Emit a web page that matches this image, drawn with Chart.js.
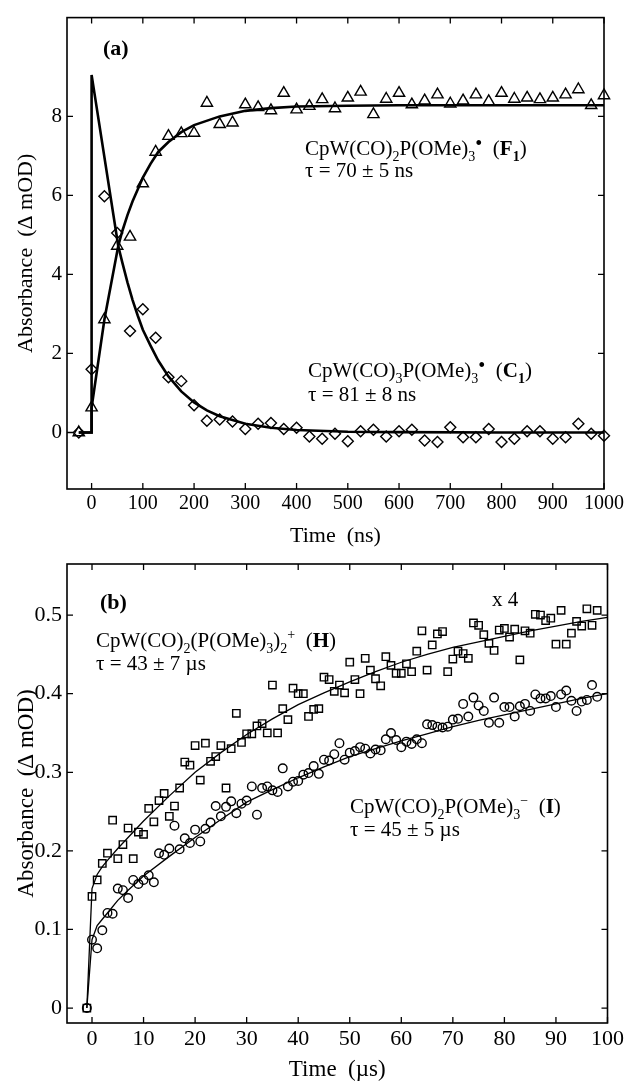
<!DOCTYPE html>
<html><head><meta charset="utf-8">
<script src="https://cdn.jsdelivr.net/npm/chart.js@4.4.1/dist/chart.umd.min.js"></script>
<style>
html,body{margin:0;padding:0;background:#fff;}
#wrap{position:relative;width:627px;height:1084px;overflow:hidden;}
canvas{position:absolute;left:0;}
</style></head><body>
<div id="wrap">
<canvas id="ca" width="627" height="550" style="top:0"></canvas>
<canvas id="cb" width="627" height="539" style="top:545px"></canvas>
</div>
<script>
// ---------- Panel (a) data ----------
const timeA = [-25,0,25,50,75,100,125,150,175,200,225,250,275,300,325,350,375,400,425,450,475,500,525,550,575,600,625,650,675,700,725,750,775,800,825,850,875,900,925,950,975,1000];
const f1Values = [0,0.63,2.86,4.72,4.95,6.3,7.1,7.5,7.57,7.58,8.34,7.8,7.84,8.3,8.23,8.15,8.59,8.17,8.26,8.43,8.2,8.47,8.62,8.05,8.44,8.59,8.3,8.4,8.55,8.32,8.4,8.55,8.38,8.59,8.44,8.47,8.43,8.47,8.55,8.68,8.28,8.53];
const c1Values = [0,1.6,5.98,5.05,2.57,3.12,2.4,1.4,1.3,0.69,0.3,0.33,0.28,0.09,0.22,0.24,0.09,0.12,-0.1,-0.16,-0.03,-0.22,0.03,0.07,-0.1,0.03,0.07,-0.2,-0.24,0.13,-0.12,-0.12,0.09,-0.24,-0.16,0.03,0.03,-0.16,-0.12,0.22,-0.03,-0.08];
const fitF1Time = [-25,0,0,25,52,60,70,80,90,100,115,130,150,175,200,250,300,350,400,500,600,800,1000];
const fitF1Value = [0,0,0.63,2.86,4.72,5.1,5.5,5.85,6.15,6.45,6.8,7.1,7.35,7.6,7.78,8.0,8.14,8.21,8.25,8.27,8.28,8.28,8.28];
const fitC1Time = [-25,0,0,52,60,70,80,90,100,115,130,150,175,200,225,250,300,350,400,500,600,800,1000];
const fitC1Value = [0,0,9.05,4.72,4.3,3.8,3.35,2.96,2.6,2.2,1.82,1.42,1.04,0.76,0.56,0.41,0.22,0.12,0.065,0.02,0.01,0,0];
const xTicksA = [0,100,200,300,400,500,600,700,800,900,1000];
const yTicksA = [0,2,4,6,8];
const yTickLabelsA = ['0','2','4','6','8'];

// ---------- Panel (b) data ----------
const timeB = [-1,0,1,2,3,4,5,6,7,8,9,10,11,12,13,14,15,16,17,18,19,20,21,22,23,24,25,26,27,28,29,30,31,32,33,34,35,36,37,38,39,40,41,42,43,44,45,46,47,48,49,50,51,52,53,54,55,56,57,58,59,60,61,62,63,64,65,66,67,68,69,70,71,72,73,74,75,76,77,78,79,80,81,82,83,84,85,86,87,88,89,90,91,92,93,94,95,96,97,98];
const hValues = [0,0.142,0.163,0.184,0.197,0.239,0.19,0.208,0.229,0.19,0.224,0.221,0.254,0.237,0.264,0.273,0.244,0.257,0.28,0.313,0.309,0.334,0.29,0.337,0.314,0.32,0.334,0.28,0.33,0.375,0.338,0.349,0.349,0.359,0.362,0.35,0.411,0.35,0.381,0.367,0.407,0.40,0.40,0.371,0.38,0.381,0.421,0.418,0.403,0.411,0.401,0.44,0.418,0.40,0.445,0.43,0.419,0.41,0.447,0.436,0.426,0.426,0.438,0.428,0.454,0.48,0.43,0.462,0.476,0.479,0.428,0.444,0.454,0.451,0.445,0.49,0.487,0.475,0.464,0.455,0.481,0.483,0.472,0.482,0.443,0.48,0.477,0.501,0.50,0.493,0.496,0.463,0.506,0.463,0.477,0.492,0.486,0.508,0.487,0.506];
const iValues = [0,0.087,0.076,0.099,0.121,0.12,0.152,0.15,0.14,0.163,0.158,0.163,0.169,0.16,0.197,0.195,0.203,0.232,0.202,0.216,0.21,0.227,0.212,0.228,0.236,0.257,0.244,0.256,0.263,0.248,0.26,0.264,0.282,0.246,0.28,0.282,0.277,0.275,0.305,0.282,0.288,0.289,0.297,0.299,0.308,0.298,0.316,0.315,0.323,0.337,0.316,0.325,0.327,0.332,0.33,0.324,0.329,0.328,0.342,0.35,0.341,0.332,0.339,0.336,0.342,0.337,0.361,0.36,0.358,0.357,0.358,0.367,0.368,0.387,0.371,0.395,0.385,0.378,0.363,0.395,0.363,0.383,0.383,0.371,0.384,0.387,0.378,0.399,0.394,0.394,0.397,0.383,0.399,0.404,0.391,0.378,0.39,0.392,0.411,0.396];
const fitHTime = [-1,0,1,2,3,5,7,10,15,20,25,30,35,40,45,50,55,60,65,70,75,80,85,90,95,100];
const fitHValue = [0,0.152,0.170,0.180,0.188,0.203,0.217,0.238,0.270,0.300,0.325,0.348,0.368,0.386,0.401,0.415,0.428,0.440,0.450,0.459,0.466,0.473,0.480,0.486,0.492,0.497];
const fitITime = [-1,0,1,2,3,5,7,10,15,20,25,30,35,40,45,50,55,60,65,70,75,80,85,90,95,100];
const fitIValue = [0,0.087,0.105,0.113,0.121,0.137,0.150,0.168,0.193,0.217,0.240,0.262,0.278,0.293,0.307,0.320,0.330,0.340,0.349,0.358,0.366,0.373,0.380,0.387,0.394,0.400];
const xTicksB = [0,10,20,30,40,50,60,70,80,90,100];
const yTicksB = [0,0.1,0.2,0.3,0.4,0.5];
const yTickLabelsB = ['0','0.1','0.2','0.3','0.4','0.5'];

const SERIF = '"Liberation Serif", "Times New Roman", serif';
const pts = (xs, ys) => xs.map((x, i) => ({x: x, y: ys[i]}));

function drawRich(ctx, x, y, segs, size) {
  let cx = x;
  ctx.textBaseline = 'alphabetic';
  ctx.textAlign = 'left';
  ctx.fillStyle = '#000';
  for (const s of segs) {
    const small = s.sub || s.sup;
    let fs = small ? Math.round(size * 0.68) : size;
    if (s.dot) fs = Math.round(size * 0.95);
    ctx.font = (s.b ? 'bold ' : '') + fs + 'px ' + SERIF;
    let dy = s.sub ? size * 0.27 : (s.sup ? -size * 0.40 : 0);
    if (s.dot) dy = -size * 0.24;
    ctx.fillText(s.t, cx, y + dy);
    cx += ctx.measureText(s.t).width;
  }
}

function framePlugin(annots, size) {
  return {
    id: 'frameTicks',
    afterDraw(chart) {
      const ctx = chart.ctx, a = chart.chartArea;
      const xs = chart.scales.x, ys = chart.scales.y;
      ctx.save();
      ctx.strokeStyle = '#000';
      ctx.lineWidth = 1.6;
      ctx.strokeRect(a.left, a.top, a.right - a.left, a.bottom - a.top);
      ctx.lineWidth = 1.3;
      ctx.beginPath();
      xs.ticks.forEach(t => {
        const px = xs.getPixelForValue(t.value);
        ctx.moveTo(px, a.bottom); ctx.lineTo(px, a.bottom - 6);
        ctx.moveTo(px, a.top); ctx.lineTo(px, a.top + 6);
      });
      ys.ticks.forEach(t => {
        const py = ys.getPixelForValue(t.value);
        ctx.moveTo(a.left, py); ctx.lineTo(a.left + 6, py);
        ctx.moveTo(a.right, py); ctx.lineTo(a.right - 6, py);
      });
      ctx.stroke();
      annots.forEach(an => drawRich(ctx, an.x, an.y, an.segs, an.size || size));
      ctx.restore();
    }
  };
}

function makeOptions(cfg) {
  return {
    responsive: false,
    animation: false,
    devicePixelRatio: 1,
    layout: {padding: {left: 0, right: 19, top: cfg.padTop, bottom: 0}},
    plugins: {legend: {display: false}, tooltip: {enabled: false}},
    scales: {
      x: {
        type: 'linear', position: 'bottom', min: cfg.xmin, max: cfg.xmax,
        grid: {display: false, drawTicks: false}, border: {display: false},
        afterBuildTicks: s => { s.ticks = cfg.xTicks.map(v => ({value: v})); },
        afterFit: s => { s.height = 61; },
        ticks: {color: '#000', font: {family: SERIF, size: cfg.xTickSize}, padding: cfg.xTickPad, maxRotation: 0, autoSkip: false,
                callback: v => String(v)},
        title: {display: true, text: cfg.xTitle, color: '#000', font: {family: SERIF, size: cfg.titleSize}, padding: {top: 0, bottom: cfg.xTitlePad}}
      },
      y: {
        type: 'linear', position: 'left', min: cfg.ymin, max: cfg.ymax,
        grid: {display: false, drawTicks: false}, border: {display: false},
        afterBuildTicks: s => { s.ticks = cfg.yTicks.map(v => ({value: v})); },
        afterFit: s => { s.width = 67; },
        ticks: {color: '#000', font: {family: SERIF, size: cfg.yTickSize}, padding: 5, autoSkip: false,
                callback: (v) => { const k = cfg.yTicks.findIndex(t => Math.abs(t - v) < 1e-9); return k >= 0 ? cfg.yLabels[k] : ''; }},
        title: {display: true, text: 'Absorbance  (\u0394 mOD)', color: '#000', font: {family: SERIF, size: cfg.titleSize}, padding: {top: 13, bottom: 0}}
      }
    }
  };
}

function markerSet(data, style, radius) {
  return {type: 'scatter', data: data, showLine: false, pointStyle: style, pointRadius: radius,
          pointBorderColor: '#000', pointBackgroundColor: 'rgba(0,0,0,0)', pointBorderWidth: 1.4, clip: false};
}
function fitSet(data, width) {
  return {type: 'scatter', data: data, showLine: true, borderColor: '#000', borderWidth: width,
          pointRadius: 0, tension: 0, fill: false, clip: false};
}

// ---------- Chart (a) ----------
const annotsA = [
  {x: 103, y: 55, segs: [{t: '(a)', b: true}], size: 22},
  {x: 305, y: 155, segs: [{t: 'CpW(CO)'}, {t: '2', sub: true}, {t: 'P(OMe)'}, {t: '3', sub: true}, {t: '\u2022', dot: true}, {t: '  ('}, {t: 'F', b: true}, {t: '1', sub: true, b: true}, {t: ')'}]},
  {x: 305, y: 177, segs: [{t: '\u03C4 = 70 \u00B1 5 ns'}]},
  {x: 308, y: 377, segs: [{t: 'CpW(CO)'}, {t: '3', sub: true}, {t: 'P(OMe)'}, {t: '3', sub: true}, {t: '\u2022', dot: true}, {t: '  ('}, {t: 'C', b: true}, {t: '1', sub: true, b: true}, {t: ')'}]},
  {x: 308, y: 401, segs: [{t: '\u03C4 = 81 \u00B1 8 ns'}]}
];
new Chart(document.getElementById('ca'), {
  type: 'scatter',
  data: {datasets: [
    fitSet(pts(fitC1Time, fitC1Value), 2.6),
    fitSet(pts(fitF1Time, fitF1Value), 2.6),
    markerSet(pts(timeA, f1Values), 'triangle', 6.5),
    markerSet(pts(timeA, c1Values), 'rectRot', 5.5)
  ]},
  options: makeOptions({padTop: 12, xmin: -48, xmax: 1000, ymin: -1.43, ymax: 10.5,
    xTicks: xTicksA, yTicks: yTicksA, yLabels: yTickLabelsA, xTickSize: 20, yTickSize: 21,
    xTickPad: 3, titleSize: 22, xTitle: 'Time  (ns)', xTitlePad: 1}),
  plugins: [framePlugin(annotsA, 21)]
});

// ---------- Chart (b) ----------
const OFF = 545;
const annotsB = [
  {x: 100, y: 609 - OFF, segs: [{t: '(b)', b: true}], size: 22},
  {x: 96, y: 647 - OFF, segs: [{t: 'CpW(CO)'}, {t: '2', sub: true}, {t: '(P(OMe)'}, {t: '3', sub: true}, {t: ')'}, {t: '2', sub: true}, {t: '+', sup: true}, {t: '  ('}, {t: 'H', b: true}, {t: ')'}]},
  {x: 96, y: 670 - OFF, segs: [{t: '\u03C4 = 43 \u00B1 7 \u00B5s'}]},
  {x: 492, y: 606 - OFF, segs: [{t: 'x 4'}]},
  {x: 350, y: 813 - OFF, segs: [{t: 'CpW(CO)'}, {t: '2', sub: true}, {t: 'P(OMe)'}, {t: '3', sub: true}, {t: '\u2212', sup: true}, {t: '  ('}, {t: 'I', b: true}, {t: ')'}]},
  {x: 350, y: 836 - OFF, segs: [{t: '\u03C4 = 45 \u00B1 5 \u00B5s'}]}
];
new Chart(document.getElementById('cb'), {
  type: 'scatter',
  data: {datasets: [
    fitSet(pts(fitHTime, fitHValue), 1.3),
    fitSet(pts(fitITime, fitIValue), 1.3),
    markerSet(pts(timeB, hValues), 'rect', 5.2),
    markerSet(pts(timeB, iValues), 'circle', 4.3)
  ]},
  options: makeOptions({padTop: 19, xmin: -4.85, xmax: 100, ymin: -0.019, ymax: 0.565,
    xTicks: xTicksB, yTicks: yTicksB, yLabels: yTickLabelsB, xTickSize: 22, yTickSize: 22,
    xTickPad: 3, titleSize: 23, xTitle: 'Time  (\u00B5s)', xTitlePad: 0}),
  plugins: [framePlugin(annotsB, 21)]
});
</script>
</body></html>
